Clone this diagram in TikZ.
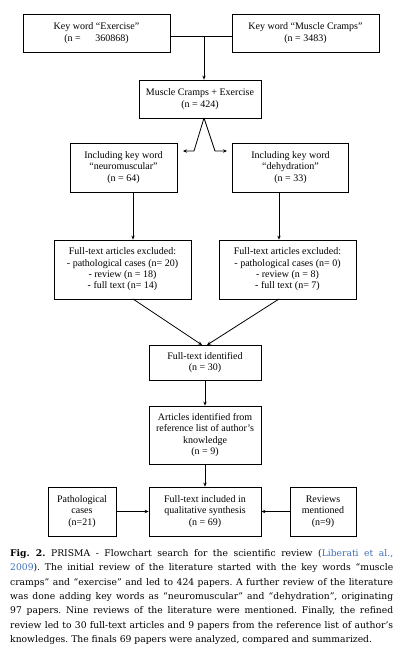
\documentclass[tikz,border=0pt]{standalone}
\usepackage{fontspec}
\setmainfont{Liberation Serif}
\newfontfamily\capfont{DejaVu Serif}
\usetikzlibrary{arrows.meta}
\definecolor{citeblue}{RGB}{60,110,180}
\tikzset{
  box/.style={draw, line width=0.8pt, inner sep=0pt, align=center,
    font=\fontsize{10}{11.3}\selectfont},
  conn/.style={line width=0.8pt},
  arr/.style={line width=0.8pt, -{Stealth[length=4pt,width=3.4pt]}}
}
\begin{document}
\begin{tikzpicture}[x=1pt,y=-1pt]
\useasboundingbox (0,0) rectangle (401,651);
\node[box, minimum width=147pt, minimum height=38pt] (b1) at (96.5,33) {Key word “Exercise”\\(n = \hspace{1.2em}360868)};
\node[box, minimum width=147pt, minimum height=38pt] (b2) at (305.5,33) {Key word “Muscle Cramps”\\(n = 3483)};
\node[box, minimum width=122pt, minimum height=38pt] (b3) at (200,99) {Muscle Cramps + Exercise\\(n = 424)};
\node[box, minimum width=107pt, minimum height=49pt] (b4) at (123.5,167.5) {Including key word\\“neuromuscular”\\(n = 64)};
\node[box, minimum width=116pt, minimum height=49pt] (b5) at (290.5,167.5) {Including key word\\“dehydration”\\(n = 33)};
\node[box, minimum width=137pt, minimum height=59pt] (b6) at (122.5,269.5) {Full-text articles excluded:\\- pathological cases (n= 20)\\- review (n = 18)\\- full text (n= 14)};
\node[box, minimum width=137pt, minimum height=59pt] (b7) at (287.5,269.5) {Full-text articles excluded:\\- pathological cases (n= 0)\\- review (n = 8)\\- full text (n= 7)};
\node[box, minimum width=112pt, minimum height=35pt] (b8) at (205,362.5) {Full-text identified\\(n = 30)};
\node[box, minimum width=112pt, minimum height=58pt] (b9) at (205,435) {Articles identified from\\reference list of author’s\\knowledge\\(n = 9)};
\node[box, minimum width=112pt, minimum height=49pt] (b10) at (205,511.5) {Full-text included in\\qualitative synthesis\\(n = 69)};
\node[box, minimum width=68pt, minimum height=49pt] (b11) at (82,511.5) {Pathological\\cases\\(n=21)};
\node[box, minimum width=66pt, minimum height=49pt] (b12) at (323,511.5) {Reviews\\mentioned\\(n=9)};
% connectors
\coordinate (j) at (204,36);
\draw[conn] (b1.east|-j) -- (b2.west|-j);
\draw[arr] (j) -- (j|-b3.north);
\coordinate (ap) at (204,118);
\coordinate (la) at (194,151);
\coordinate (lb) at (183,151);
\coordinate (ra) at (215,151);
\coordinate (rb) at (227,151);
\draw[arr] (ap) -- (la) -- (lb);
\draw[arr] (ap) -- (ra) -- (rb);
\coordinate (c4) at (133,192);
\coordinate (c5) at (279,192);
\draw[arr] (c4) -- (c4|-b6.north);
\draw[arr] (c5) -- (c5|-b7.north);
\coordinate (s6) at (133,299);
\coordinate (s7) at (279,299);
\coordinate (t6) at (202,345);
\coordinate (t7) at (207,345);
\draw[arr] (s6) -- (t6);
\draw[arr] (s7) -- (t7);
\draw[arr] (b8) -- (b9);
\draw[arr] (b9) -- (b10);
\draw[arr] (b11) -- (b10);
\draw[arr] (b12) -- (b10);
% caption
\node[anchor=north west, inner sep=0pt, text width=383pt, align=justify,
  font=\capfont\fontsize{9.2}{14.3}\selectfont\frenchspacing] (cap) at (10,549.5)
{\textbf{Fig. 2.} PRISMA - Flowchart search for the scientific review (\textcolor{citeblue}{Liberati et al.,\linebreak 2009}). The initial review of the literature started with the key words “muscle\linebreak cramps” and “exercise” and led to 424 papers. A further review of the literature\linebreak was done adding key words as “neuromuscular” and “dehydration”, originating\linebreak 97 papers. Nine reviews of the literature were mentioned. Finally, the refined\linebreak review led to 30 full-text articles and 9 papers from the reference list of author’s\linebreak knowledges. The finals 69 papers were analyzed, compared and summarized.};
\end{tikzpicture}
\end{document}
